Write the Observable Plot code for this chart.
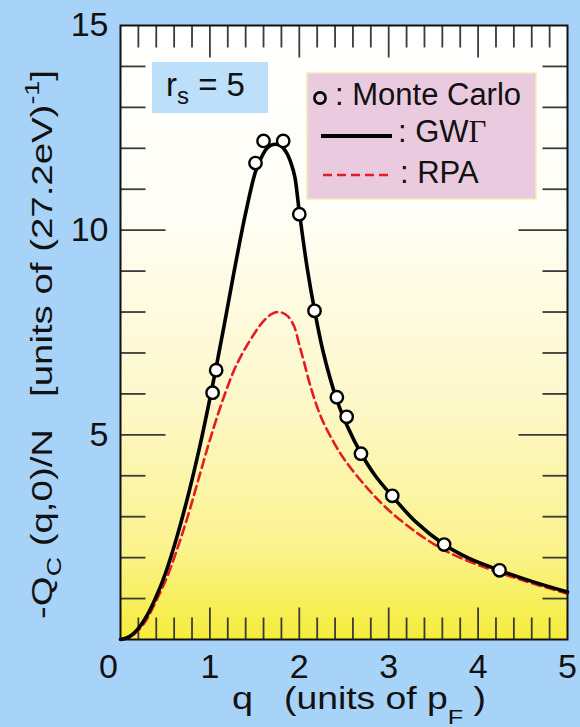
<!DOCTYPE html>
<html><head><meta charset="utf-8">
<script src="https://cdn.jsdelivr.net/npm/d3@7"></script>
<script src="https://cdn.jsdelivr.net/npm/@observablehq/plot@0.6"></script>
<style>
html,body{margin:0;padding:0;background:#a8d3f8;}
#chart svg{display:block;}
</style>
</head><body><div id="chart"></div>
<script>
// Monte Carlo points
const mcQ   = [1.03, 1.07, 1.51, 1.60, 1.82, 2.00, 2.17, 2.42, 2.53, 2.69, 3.04, 3.62, 4.24];
const mcVal = [6.03, 6.58, 11.64, 12.18, 12.18, 10.39, 8.03, 5.92, 5.44, 4.54, 3.51, 2.32, 1.69];
// GWΓ curve
const gwQ   = [0, 0.1, 0.2, 0.3, 0.4, 0.5, 0.63, 0.76, 0.88, 0.99, 1.07, 1.16, 1.27, 1.4, 1.51, 1.57, 1.63, 1.68, 1.74, 1.8, 1.86, 1.91, 1.95, 2.0, 2.09, 2.17, 2.27, 2.42, 2.54, 2.69, 2.85, 3.04, 3.3, 3.62, 3.9, 4.24, 4.6, 5.0];
const gwVal = [0, 0.07, 0.27, 0.6, 1.05, 1.6, 2.5, 3.55, 4.65, 5.78, 6.65, 7.68, 8.98, 10.42, 11.43, 11.75, 11.98, 12.07, 12.1, 12.05, 11.88, 11.62, 11.3, 10.45, 9.05, 8.05, 7.0, 5.85, 5.2, 4.55, 4.0, 3.5, 2.88, 2.32, 1.98, 1.69, 1.42, 1.16];
// RPA curve
const rpaQ   = [0, 0.1, 0.26, 0.4, 0.52, 0.64, 0.75, 0.89, 1.01, 1.16, 1.3, 1.49, 1.6, 1.7, 1.78, 1.87, 1.94, 2.0, 2.05, 2.13, 2.24, 2.39, 2.52, 2.76, 2.98, 3.32, 3.65, 4.1, 4.55, 5.0];
const rpaVal = [0, 0.05, 0.38, 0.95, 1.52, 2.25, 2.99, 4.05, 4.95, 5.95, 6.72, 7.45, 7.78, 7.96, 8.0, 7.9, 7.66, 7.2, 6.8, 6.15, 5.45, 4.8, 4.35, 3.7, 3.2, 2.6, 2.15, 1.74, 1.41, 1.12];
// ticks
const xLabels = [0, 1, 2, 3, 4, 5];
const xMajor = [1, 2, 3, 4];
const xMinor = [0.2, 0.4, 0.6, 0.8, 1.2, 1.4, 1.6, 1.8, 2.2, 2.4, 2.6, 2.8, 3.2, 3.4, 3.6, 3.8, 4.2, 4.4, 4.6, 4.8];
const yLabels = [5, 10, 15];
const yMajor = [5, 10];
const yMinor = [1, 2, 3, 4, 6, 7, 8, 9, 11, 12, 13, 14];

const mc = mcQ.map((q, i) => ({q, v: mcVal[i]}));
const gw = gwQ.map((q, i) => ({q, v: gwVal[i]}));
const rpa = rpaQ.map((q, i) => ({q, v: rpaVal[i]}));

const FONT = "'Liberation Sans', Arial, Helvetica, sans-serif";
const tickStyle = {anchor: "start", r: 0, stroke: "#3a3a3a", strokeWidth: 1.8, strokeLinecap: "butt"};

const chart = Plot.plot({
  width: 580, height: 727,
  marginLeft: 120, marginRight: 13, marginTop: 25, marginBottom: 88,
  style: {background: "#a8d3f8", fontFamily: FONT, color: "#111", overflow: "visible"},
  x: {domain: [0, 5], axis: null},
  y: {domain: [0, 15], axis: null},
  marks: [
    Plot.frame({fill: "url(#plotGrad)", stroke: null}),
    // bottom / top ticks
    Plot.vector(xMinor, {x: d => d, y: () => 0, length: 22, rotate: 0, ...tickStyle}),
    Plot.vector(xMajor, {x: d => d, y: () => 0, length: 32, rotate: 0, ...tickStyle}),
    Plot.vector(xMinor, {x: d => d, y: () => 15, length: 22, rotate: 180, ...tickStyle}),
    Plot.vector(xMajor, {x: d => d, y: () => 15, length: 32, rotate: 180, ...tickStyle}),
    // left / right ticks
    Plot.vector(yMinor, {x: () => 0, y: d => d, length: 25, rotate: 90, ...tickStyle}),
    Plot.vector(yMajor, {x: () => 0, y: d => d, length: 45, rotate: 90, ...tickStyle}),
    Plot.vector(yMinor, {x: () => 5, y: d => d, length: 25, rotate: -90, ...tickStyle}),
    Plot.vector(yMajor, {x: () => 5, y: d => d, length: 49, rotate: -90, ...tickStyle}),
    // curves
    Plot.line(rpa, {x: "q", y: "v", stroke: "#e61a22", strokeWidth: 2.6, strokeDasharray: "9,5", curve: "catmull-rom"}),
    Plot.line(gw, {x: "q", y: "v", stroke: "#000", strokeWidth: 3.6, curve: "catmull-rom"}),
    Plot.dot(mc, {x: "q", y: "v", r: 6.2, fill: "#fff", stroke: "#000", strokeWidth: 2.4}),
    Plot.frame({stroke: "#111", strokeWidth: 2}),
    // tick labels
    Plot.axisX(xLabels.slice(1), {anchor: "bottom", tickSize: 0, tickPadding: 14, fontSize: 34, label: null}),
    Plot.axisX(xLabels.slice(0, 1), {anchor: "bottom", tickSize: 0, tickPadding: 14, fontSize: 34, label: null, dx: -12}),
    Plot.axisY(yLabels, {anchor: "left", tickSize: 0, tickPadding: 12, fontSize: 34, label: null})
  ]
});

const svg = d3.select(chart);
const defs = svg.insert("defs", ":first-child");
const grad = defs.append("linearGradient").attr("id", "plotGrad")
  .attr("x1", 0).attr("y1", 0).attr("x2", 0).attr("y2", 1);
[[0, "#ffffff"], [0.3, "#fffef6"], [0.6, "#fdf8cc"], [0.85, "#fbf38e"], [1, "#f5ec3a"]]
  .forEach(([o, c]) => grad.append("stop").attr("offset", o).attr("stop-color", c));

const ann = svg.append("g").attr("font-family", FONT).attr("fill", "#111")
  .attr("text-anchor", "start").style("white-space", "pre");

// r_s = 5 box
ann.append("rect").attr("x", 152).attr("y", 62).attr("width", 116).attr("height", 51).attr("fill", "#bcdffa");
const rs = ann.append("text").attr("x", 166).attr("y", 96).attr("font-size", 33);
rs.append("tspan").text("r");
rs.append("tspan").attr("font-size", 24).attr("dy", 8).text("s");
rs.append("tspan").attr("dy", -8).text(" = 5");

// legend
ann.append("rect").attr("x", 307).attr("y", 73).attr("width", 229).attr("height", 126)
  .attr("fill", "#eacade").attr("stroke", "#f4ecb4").attr("stroke-width", 1.5);
ann.append("circle").attr("cx", 320).attr("cy", 98).attr("r", 5.6).attr("fill", "none").attr("stroke", "#000").attr("stroke-width", 2.6);
ann.append("text").attr("x", 335).attr("y", 105).attr("font-size", 31).text(": Monte Carlo");
ann.append("line").attr("x1", 321).attr("x2", 392).attr("y1", 136).attr("y2", 136).attr("stroke", "#000").attr("stroke-width", 4);
const gt = ann.append("text").attr("x", 398).attr("y", 142).attr("font-size", 31);
gt.append("tspan").text(": GW");
gt.append("tspan").attr("font-family", "'Liberation Serif', 'DejaVu Serif', serif").text("Γ");
ann.append("line").attr("x1", 323).attr("x2", 388).attr("y1", 175).attr("y2", 175).attr("stroke", "#e61a22").attr("stroke-width", 2.6).attr("stroke-dasharray", "9,5");
ann.append("text").attr("x", 400).attr("y", 183).attr("font-size", 31).text(": RPA");

// x title
ann.append("text").attr("x", 232).attr("y", 709).attr("font-size", 31)
  .attr("textLength", 21).attr("lengthAdjust", "spacingAndGlyphs").text("q");
const xt = ann.append("text").attr("x", 284).attr("y", 709).attr("font-size", 31)
  .attr("textLength", 202).attr("lengthAdjust", "spacingAndGlyphs");
xt.append("tspan").text("(units of p");
xt.append("tspan").attr("font-size", 21).attr("dy", 15).text("F");
xt.append("tspan").attr("dy", -15).text(" )");

// y title
const yt = ann.append("text").attr("transform", "translate(52,619) rotate(-90)").attr("font-size", 30)
  .attr("textLength", 549).attr("lengthAdjust", "spacingAndGlyphs");
yt.append("tspan").text("-Q");
yt.append("tspan").attr("font-size", 21).attr("dy", 9).text("C");
yt.append("tspan").attr("dy", -9).text(" (q,0)/N   [units of (27.2eV)");
yt.append("tspan").attr("font-size", 21).attr("dy", -13).text("-1");
yt.append("tspan").attr("dy", 13).text("]");

document.getElementById("chart").appendChild(chart);
</script>
</body></html>
